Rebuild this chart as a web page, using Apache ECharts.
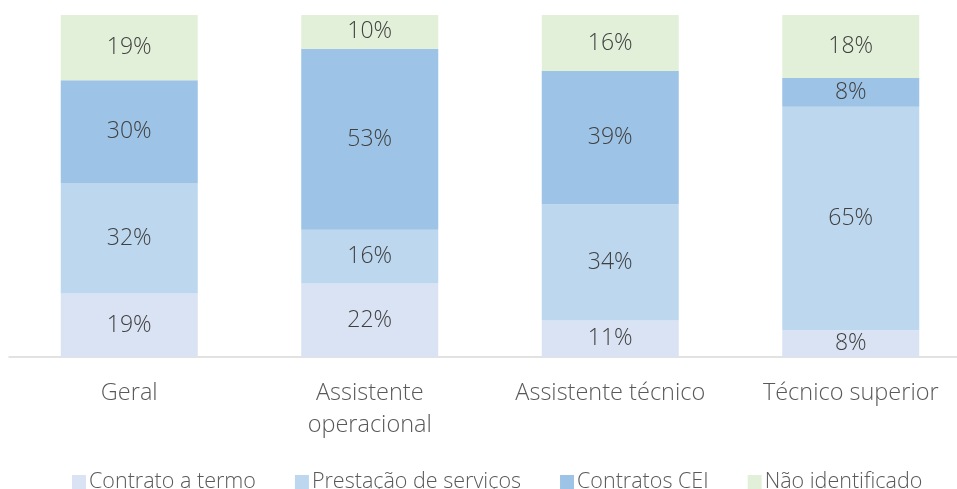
<!DOCTYPE html>
<html>
<head>
<meta charset="utf-8">
<script src="https://cdn.jsdelivr.net/npm/echarts@6/dist/echarts.min.js"></script>
<style>
  html, body { margin: 0; padding: 0; background: #fff; }
  #main { width: 957px; height: 489px; }
</style>
</head>
<body>
<div id="main"></div>
<script>
// categorias e valores (% por categoria)
var categories = ['Geral', 'Assistente\noperacional', 'Assistente técnico', 'Técnico superior'];
var seriesNames = ['Contrato a termo', 'Prestação de serviços', 'Contratos CEI', 'Não identificado'];
var contratoTermo = [18.6, 21.5, 10.7, 7.8];
var prestacaoServicos = [32.3, 15.7, 34.0, 65.4];
var contratosCEI = [30.0, 52.9, 38.9, 8.4];
var naoIdentificado = [19.1, 9.9, 16.4, 18.4];

var colors = ['#DAE3F3', '#BDD7EE', '#9DC3E6', '#E2F0D9'];
var font = '"Open Sans", sans-serif';

var chart = echarts.init(document.getElementById('main'));

var values = [contratoTermo, prestacaoServicos, contratosCEI, naoIdentificado];
var seriesList = values.map(function (v, i) {
  return {
    name: seriesNames[i],
    type: 'bar',
    stack: 'total',
    barWidth: 137,
    itemStyle: { color: colors[i] },
    label: {
      show: true,
      position: 'inside',
      color: '#404040',
      fontFamily: font,
      fontWeight: 300,
      fontSize: 23,
      formatter: function (p) { return Math.round(p.value) + '%'; }
    },
    data: v
  };
});

chart.setOption({
  animation: false,
  legend: {
    top: 466,
    left: 67,
    itemWidth: 14,
    itemHeight: 14,
    itemGap: 39,
    icon: 'rect',
    textStyle: { color: '#595959', fontFamily: font, fontWeight: 300, fontSize: 21.5, padding: [0, 0, 0, -2] },
    data: seriesNames
  },
  grid: {
    left: 9,
    width: 962,
    top: 15,
    bottom: 132,
    outerBoundsMode: 'none'
  },
  xAxis: {
    type: 'category',
    data: categories,
    axisLine: { lineStyle: { color: '#D9D9D9', width: 1.5 } },
    axisTick: { show: false },
    axisLabel: {
      interval: 0,
      color: '#595959',
      fontFamily: font,
      fontWeight: 300,
      fontSize: 23.5,
      lineHeight: 32,
      margin: 20
    }
  },
  yAxis: {
    type: 'value',
    min: 0,
    max: 100,
    show: false,
    splitLine: { show: false }
  },
  series: seriesList
});
</script>
</body>
</html>
